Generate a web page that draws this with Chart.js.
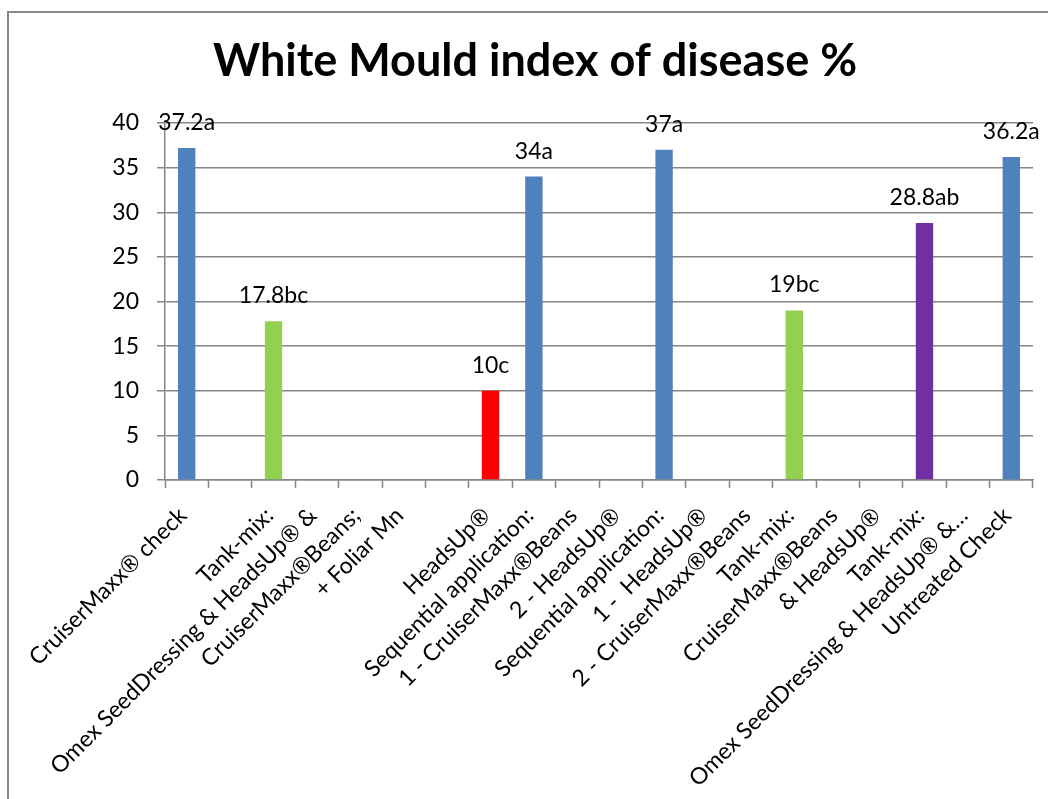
<!DOCTYPE html>
<html>
<head>
<meta charset="utf-8">
<title>White Mould index of disease %</title>
<script src="https://cdn.jsdelivr.net/npm/chart.js@4.4.1/dist/chart.umd.min.js"></script>
<style>
  html, body { margin: 0; padding: 0; background: #fff; overflow: hidden; }
  #frame {
    position: absolute; left: 7px; top: 11px;
    width: 1060px; height: 800px;
    border-left: 2px solid #878787; border-top: 2px solid #878787;
  }
  #chart { position: absolute; left: 0; top: 0; }
</style>
</head>
<body>
<div id="frame">
  <canvas id="chart" width="1052" height="786"></canvas>
</div>
<script>
// treatments, one text line per category row (as in the sheet)
const categories = [
  "CruiserMaxx\u00AE check", "",
  "Tank-mix:", "Omex SeedDressing & HeadsUp\u00AE &", "CruiserMaxx\u00AEBeans;", "+ Foliar Mn", "",
  "HeadsUp\u00AE",
  "Sequential application:", "1 - CruiserMaxx\u00AEBeans", "2 - HeadsUp\u00AE",
  "Sequential application:", "1 -  HeadsUp\u00AE", "2 - CruiserMaxx\u00AEBeans",
  "Tank-mix:", "CruiserMaxx\u00AEBeans", "& HeadsUp\u00AE",
  "Tank-mix:", "Omex SeedDressing & HeadsUp\u00AE &\u2026",
  "Untreated Check"
];
const values = [37.2, null, 17.8, null, null, null, null, 10, 34, null, null, 37, null, null, 19, null, null, 28.8, null, 36.2];
const letters = ["a", null, "bc", null, null, null, null, "c", "a", null, null, "a", null, null, "bc", null, null, "ab", null, "a"];
const yTicks = [0, 5, 10, 15, 20, 25, 30, 35, 40];

const blue = "#4F81BD", green = "#92D050", red = "#FF0000", purple = "#7030A0";
const barColors = [blue, null, green, null, null, null, null, red, blue, null, null, blue, null, null, green, null, null, purple, null, blue];

const fontFamily = "Lato, 'Open Sans', sans-serif";
const gridGray = "#868686";

// value + significance letters above each bar
const valueLabels = {
  id: "valueLabels",
  afterDatasetsDraw(chart) {
    const ctx = chart.ctx;
    const meta = chart.getDatasetMeta(0);
    ctx.save();
    ctx.font = "23px " + fontFamily;
    ctx.fillStyle = "#000";
    ctx.textAlign = "center";
    ctx.textBaseline = "alphabetic";
    meta.data.forEach((bar, i) => {
      if (values[i] === null) return;
      ctx.fillText(values[i] + letters[i], bar.x, bar.y - 18);
    });
    ctx.restore();
  }
};

const myChart = new Chart(document.getElementById("chart"), {
  type: "bar",
  data: {
    labels: categories,
    datasets: [{
      data: values,
      backgroundColor: barColors,
      categoryPercentage: 1,
      barPercentage: 0.4
    }]
  },
  options: {
    responsive: false,
    animation: false,
    devicePixelRatio: 1,
    layout: { padding: { left: 28, right: 28, top: 0, bottom: 0 } },
    plugins: {
      legend: { display: false },
      tooltip: { enabled: false },
      title: {
        display: true,
        text: "White Mould index of disease %",
        color: "#000",
        font: { family: fontFamily, size: 45, weight: "bold" },
        padding: { top: 21, bottom: 35 }
      }
    },
    scales: {
      x: {
        afterFit: (scale) => { scale.height = 319; },
        grid: {
          offset: true,
          drawOnChartArea: false,
          tickLength: 8,
          tickColor: gridGray,
          tickWidth: 1.5
        },
        border: { color: gridGray, width: 1.5 },
        ticks: {
          autoSkip: false,
          minRotation: 45,
          maxRotation: 45,
          padding: 14,
          labelOffset: -4,
          color: "#000",
          font: { family: fontFamily, size: 23 }
        }
      },
      y: {
        min: 0,
        max: 40,
        afterFit: (scale) => { scale.width = 128; },
        afterBuildTicks: (scale) => { scale.ticks = yTicks.map(v => ({ value: v })); },
        grid: { color: gridGray, lineWidth: 1.5, tickLength: 8 },
        border: { color: gridGray, width: 1.5 },
        ticks: {
          padding: 18,
          color: "#000",
          font: { family: fontFamily, size: 23 }
        }
      }
    }
  },
  plugins: [valueLabels]
});
</script>
</body>
</html>
